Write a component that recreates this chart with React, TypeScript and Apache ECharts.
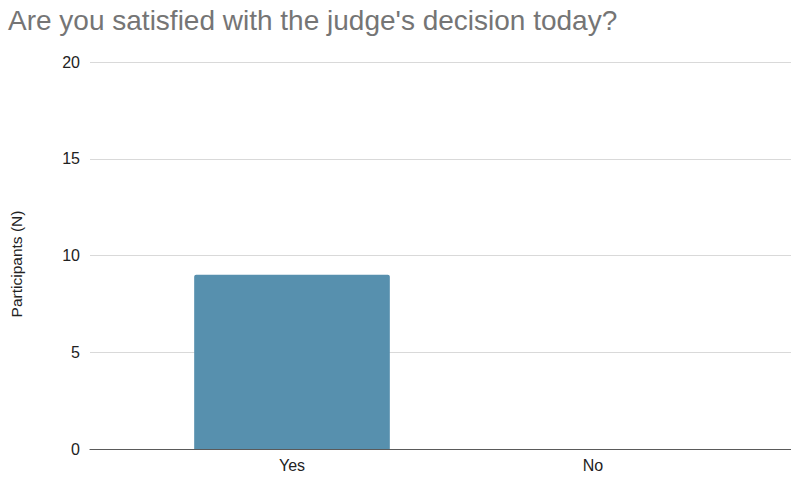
import React, { useEffect, useRef } from "react";
import * as echarts from "echarts";

const TITLE = "Are you satisfied with the judge's decision today?";
const Y_NAME = "Participants (N)";
const categories = ["Yes", "No"];
const participants = [9, 0];
const Y_MIN = 0;
const Y_MAX = 20;
const Y_INTERVAL = 5;

const FONT = "'Liberation Sans', Arial, Helvetica, sans-serif";

export default function App() {
  const ref = useRef<HTMLDivElement>(null);
  useEffect(() => {
    document.body.style.margin = "0";
    if (!ref.current) return;
    const chart = echarts.init(ref.current, undefined, { renderer: "svg" });
    chart.setOption({
      animation: false,
      backgroundColor: "#ffffff",
      title: {
        text: TITLE,
        left: 8,
        top: 6,
        padding: 0,
        textStyle: { fontFamily: FONT, fontSize: 28, fontWeight: "normal", color: "#757575" },
      },
      grid: [
        { left: 90, right: 0, top: 62, bottom: 29, containLabel: false },
        { left: 141.5, right: 47.5, top: 62, bottom: 29, containLabel: false },
      ],
      xAxis: [
        {
          gridIndex: 0,
          type: "value",
          min: 0,
          max: 1,
          axisLine: { show: true, onZero: true, lineStyle: { color: "#5a5a5a", width: 1.2 } },
          axisTick: { show: false },
          axisLabel: { show: false },
          splitLine: { show: false },
        },
        {
          gridIndex: 1,
          type: "category",
          data: categories,
          axisLine: { show: false },
          axisTick: { show: false },
          axisLabel: { margin: 8, fontFamily: FONT, fontSize: 16, color: "#222222" },
          splitLine: { show: false },
        },
      ],
      yAxis: [
        {
          gridIndex: 0,
          type: "value",
          min: Y_MIN,
          max: Y_MAX,
          interval: Y_INTERVAL,
          name: Y_NAME,
          nameLocation: "middle",
          nameGap: 66,
          nameTextStyle: { fontFamily: FONT, fontSize: 15.5, color: "#222222", padding: [0, 17, 0, 0] },
          axisLine: { show: false },
          axisTick: { show: false },
          axisLabel: { margin: 10, fontFamily: FONT, fontSize: 16, color: "#222222" },
          splitLine: { show: true, lineStyle: { color: "#d9d9d9", width: 1 } },
        },
        {
          gridIndex: 1,
          type: "value",
          min: Y_MIN,
          max: Y_MAX,
          interval: Y_INTERVAL,
          show: false,
          splitLine: { show: false },
        },
      ],
      series: [
        {
          type: "bar",
          xAxisIndex: 1,
          yAxisIndex: 1,
          data: participants,
          barWidth: "65%",
          itemStyle: { color: "#5790ae", borderRadius: [2, 2, 0, 0] },
        },
      ],
    });
    return () => chart.dispose();
  }, []);
  return <div ref={ref} style={{ width: 791, height: 478 }} />;
}
